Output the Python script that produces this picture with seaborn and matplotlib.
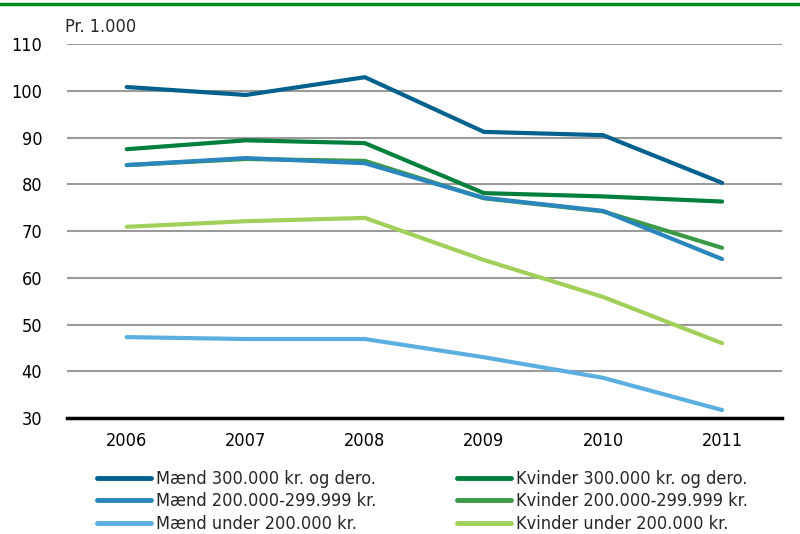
import pandas as pd
import matplotlib
matplotlib.use("Agg")
import matplotlib.pyplot as plt
import seaborn as sns
from matplotlib.lines import Line2D

# --------------------- Data ---------------------
years = [2006, 2007, 2008, 2009, 2010, 2011]

maend_300 = [100.8, 99.1, 102.9, 91.2, 90.5, 80.3]
maend_200_299 = [84.1, 85.6, 84.5, 77.1, 74.3, 64.0]
maend_under_200 = [47.3, 46.9, 46.9, 43.0, 38.6, 31.7]
kvinder_300 = [87.5, 89.4, 88.8, 78.1, 77.4, 76.3]
kvinder_200_299 = [84.1, 85.4, 85.0, 77.0, 74.2, 66.4]
kvinder_under_200 = [70.9, 72.1, 72.8, 63.8, 55.9, 46.0]

series_names = [
    "Mænd 300.000 kr. og dero.",
    "Mænd 200.000-299.999 kr.",
    "Mænd under 200.000 kr.",
    "Kvinder 300.000 kr. og dero.",
    "Kvinder 200.000-299.999 kr.",
    "Kvinder under 200.000 kr.",
]
series_values = [maend_300, maend_200_299, maend_under_200,
                 kvinder_300, kvinder_200_299, kvinder_under_200]
colors = ["#00618f", "#2a86bd", "#5aaee0", "#00803c", "#3a9a48", "#a0d05a"]

rows = []
for name, vals in zip(series_names, series_values):
    for yr, v in zip(years, vals):
        rows.append({"year": yr, "value": v, "serie": name})
df = pd.DataFrame(rows)

# --------------------- Plot ---------------------
sns.set_theme(style="white")
plt.rcParams["font.family"] = ["DejaVu Sans"]
plt.rcParams["font.stretch"] = "condensed"

fig = plt.figure(figsize=(8, 5.34), dpi=100)
ax = fig.add_axes([0.084, 0.2172, 0.893, 0.7004])

# draw in reverse so darker lines sit on top like the original
palette = dict(zip(series_names, colors))
sns.lineplot(data=df, x="year", y="value", hue="serie", palette=palette,
             hue_order=series_names[::-1], linewidth=3, ax=ax, legend=False)

ax.set_xlim(2005.5, 2011.5)
ax.set_ylim(30, 110)
ax.set_yticks(range(30, 111, 10))
ax.set_xticks(years)
ax.set_xticklabels([str(y) for y in years])
ax.tick_params(axis="both", labelsize=13, length=0, colors="black")
ax.tick_params(axis="y", pad=18)
ax.tick_params(axis="x", pad=10)
ax.set_xlabel("")
ax.set_ylabel("")
ax.yaxis.grid(True, color="#9a9a9a", linewidth=1.5)
ax.set_axisbelow(True)
for side in ["left", "right", "top"]:
    ax.spines[side].set_visible(False)
ax.spines["bottom"].set_color("black")
ax.spines["bottom"].set_linewidth(2.5)
ax.spines["bottom"].set_zorder(5)

fig.text(0.081, 0.932, "Pr. 1.000", fontsize=13, ha="left", va="bottom")

# green rule at the top
fig.add_artist(Line2D([0, 1], [0.992, 0.992], color="#008a1e", linewidth=2.5,
                      transform=fig.transFigure))

# legend in two columns
handles = [Line2D([0], [0], color=c, linewidth=3.5) for c in colors]
leg_kw = dict(frameon=False, fontsize=13, handlelength=3.0, handletextpad=0.3,
              labelspacing=0.25, borderpad=0, borderaxespad=0, loc="upper left")
fig.legend(handles[:3], series_names[:3], bbox_to_anchor=(0.121, 0.120), **leg_kw)
fig.legend(handles[3:], series_names[3:], bbox_to_anchor=(0.571, 0.120), **leg_kw)

fig.savefig("out.png", dpi=100)
